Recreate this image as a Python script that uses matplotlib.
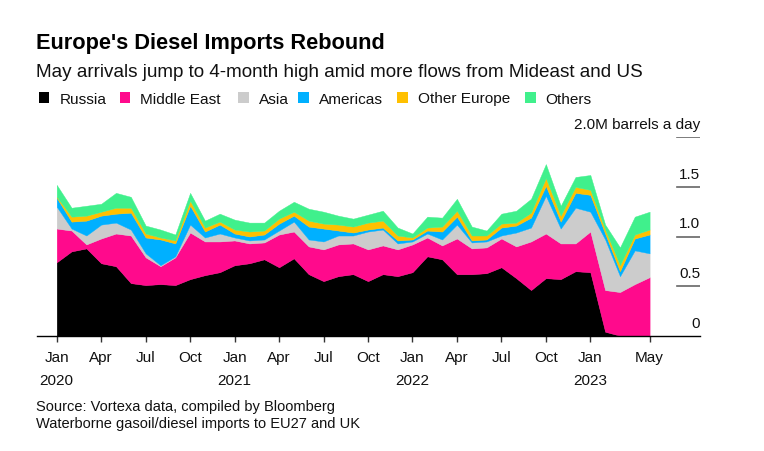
import matplotlib
matplotlib.use("Agg")
import matplotlib.pyplot as plt
from matplotlib.patches import Rectangle

plt.rcParams['font.family'] = ['Liberation Sans', 'DejaVu Sans']

# Monthly data, Jan 2020 .. May 2023 (million barrels a day)
months = list(range(41))
russia = [0.74, 0.85, 0.88, 0.73, 0.70, 0.53, 0.51, 0.52, 0.51, 0.57, 0.61, 0.64,
          0.71, 0.73, 0.77, 0.69, 0.78, 0.62, 0.55, 0.60, 0.62, 0.55, 0.62, 0.60,
          0.64, 0.80, 0.77, 0.62, 0.62, 0.63, 0.69, 0.58, 0.46, 0.58, 0.57, 0.65,
          0.64, 0.04, 0.00, 0.00, 0.00]
middle_east = [0.34, 0.21, 0.04, 0.25, 0.33, 0.48, 0.28, 0.18, 0.28, 0.47, 0.34, 0.31,
               0.25, 0.20, 0.17, 0.33, 0.27, 0.28, 0.32, 0.32, 0.31, 0.32, 0.29, 0.27,
               0.28, 0.19, 0.14, 0.36, 0.26, 0.26, 0.29, 0.32, 0.49, 0.45, 0.36, 0.28,
               0.41, 0.42, 0.44, 0.52, 0.59]
asia = [0.22, 0.02, 0.09, 0.14, 0.11, 0.06, 0.04, 0.01, 0.01, 0.08, 0.04, 0.08,
        0.03, 0.03, 0.03, 0.04, 0.10, 0.07, 0.08, 0.09, 0.08, 0.18, 0.16, 0.06,
        0.03, 0.04, 0.06, 0.14, 0.06, 0.06, 0.03, 0.14, 0.14, 0.38, 0.15, 0.36,
        0.20, 0.51, 0.16, 0.34, 0.24]
americas = [0.09, 0.07, 0.15, 0.09, 0.09, 0.17, 0.16, 0.26, 0.13, 0.19, 0.06, 0.09,
            0.04, 0.04, 0.05, 0.07, 0.06, 0.13, 0.13, 0.05, 0.03, 0.02, 0.02, 0.03,
            0.02, 0.03, 0.08, 0.08, 0.02, 0.02, 0.08, 0.07, 0.10, 0.10, 0.07, 0.15,
            0.17, 0.06, 0.05, 0.12, 0.19]
other_europe = [0.01, 0.05, 0.05, 0.04, 0.06, 0.05, 0.04, 0.02, 0.03, 0.05, 0.04, 0.03,
                0.04, 0.05, 0.04, 0.05, 0.04, 0.06, 0.05, 0.06, 0.06, 0.07, 0.07, 0.05,
                0.02, 0.03, 0.05, 0.06, 0.05, 0.04, 0.04, 0.03, 0.05, 0.08, 0.06, 0.06,
                0.05, 0.04, 0.06, 0.04, 0.05]
others = [0.12, 0.09, 0.10, 0.08, 0.15, 0.11, 0.08, 0.08, 0.06, 0.08, 0.07, 0.08,
          0.10, 0.09, 0.08, 0.08, 0.10, 0.12, 0.12, 0.09, 0.08, 0.08, 0.10, 0.08,
          0.04, 0.11, 0.09, 0.12, 0.09, 0.05, 0.10, 0.12, 0.14, 0.14, 0.10, 0.10,
          0.15, 0.05, 0.18, 0.18, 0.18]

series_names = ["Russia", "Middle East", "Asia", "Americas", "Other Europe", "Others"]
colors = ["#000000", "#FF0A8C", "#CCCCCC", "#00B0FF", "#FFC000", "#40F08C"]

tick_pos = [0, 3, 6, 9, 12, 15, 18, 21, 24, 27, 30, 33, 36, 40]
tick_labels = ["Jan", "Apr", "Jul", "Oct", "Jan", "Apr", "Jul", "Oct",
               "Jan", "Apr", "Jul", "Oct", "Jan", "May"]
year_pos = [0, 12, 24, 36]
year_labels = ["2020", "2021", "2022", "2023"]
y_ticks = [0, 0.5, 1.0, 1.5, 2.0]
y_tick_labels = ["0", "0.5", "1.0", "1.5", "2.0M barrels a day"]

W, H = 764, 452
fig = plt.figure(figsize=(W / 100, H / 100), dpi=100)
ax_left, ax_right = 37 / W, 700 / W
ax_bottom = (H - 336.7) / H
ax_top = (H - 138.3) / H
ax = fig.add_axes([ax_left, ax_bottom, ax_right - ax_left, ax_top - ax_bottom])

polys = ax.stackplot(months, russia, middle_east, asia, americas, other_europe, others,
                     colors=colors, linewidth=0)
for p, c in zip(polys, colors):
    p.set_edgecolor(c)
    p.set_linewidth(0.3)

ax.set_xlim(-1.33, 43.4)
ax.set_ylim(0, 2.0)
for s in ["top", "right", "left"]:
    ax.spines[s].set_visible(False)
ax.spines["bottom"].set_color("#000000")
ax.spines["bottom"].set_linewidth(1.0)
ax.set_yticks([])
ax.set_xticks(tick_pos)
ax.set_xticklabels(tick_labels, fontsize=11, color="#111111")
ax.tick_params(axis="x", direction="out", length=4, width=1, color="#333333", pad=6)

# year labels
for xp, yl in zip(year_pos, year_labels):
    ax.annotate(yl, xy=(xp, 0), xycoords=("data", "axes fraction"),
                xytext=(0, -48.0 * 72 / 100), textcoords="offset points",
                ha="center", va="baseline", fontsize=11, color="#111111")

# right-side value axis
xmin_frac = (676.7 - 37) / (700 - 37)
for yv, yl in zip(y_ticks, y_tick_labels):
    if yv > 0:
        ax.axhline(yv, xmin=xmin_frac, xmax=1.0, color="#666666", linewidth=1.2)
    ax.annotate(yl, xy=(1.0, yv), xycoords=("axes fraction", "data"),
                xytext=(0, 9 * 72 / 100), textcoords="offset points",
                ha="right", va="baseline", fontsize=11, color="#111111")

# titles
def px_to_fig(x, y):
    return x / W, (H - y) / H

fig.text(*px_to_fig(36, 49.3), "Europe's Diesel Imports Rebound", fontsize=15.7,
         fontweight="bold", ha="left", va="baseline", color="#000000")
fig.text(*px_to_fig(36, 77.3),
         "May arrivals jump to 4-month high amid more flows from Mideast and US",
         fontsize=13.6, ha="left", va="baseline", color="#111111")

# legend
leg_sq_x = [39, 119.5, 238, 298, 397, 525]
for sx, name, c in zip(leg_sq_x, series_names, colors):
    fx, fy = px_to_fig(sx, 103.5)
    fig.patches.append(Rectangle((fx, fy), 10.5 / W, 10.5 / H, transform=fig.transFigure,
                                 facecolor=c, edgecolor="none"))
    tx, ty = px_to_fig(sx + 20.7, 103.5)
    fig.text(tx, ty, name, fontsize=11.1, ha="left", va="baseline", color="#111111")

# footnotes
fig.text(*px_to_fig(36.5, 411.5), "Source: Vortexa data, compiled by Bloomberg",
         fontsize=10.5, ha="left", va="baseline", color="#111111")
fig.text(*px_to_fig(36.5, 428.5), "Waterborne gasoil/diesel imports to EU27 and UK",
         fontsize=10.5, ha="left", va="baseline", color="#111111")

fig.savefig("out.png", dpi=100)
